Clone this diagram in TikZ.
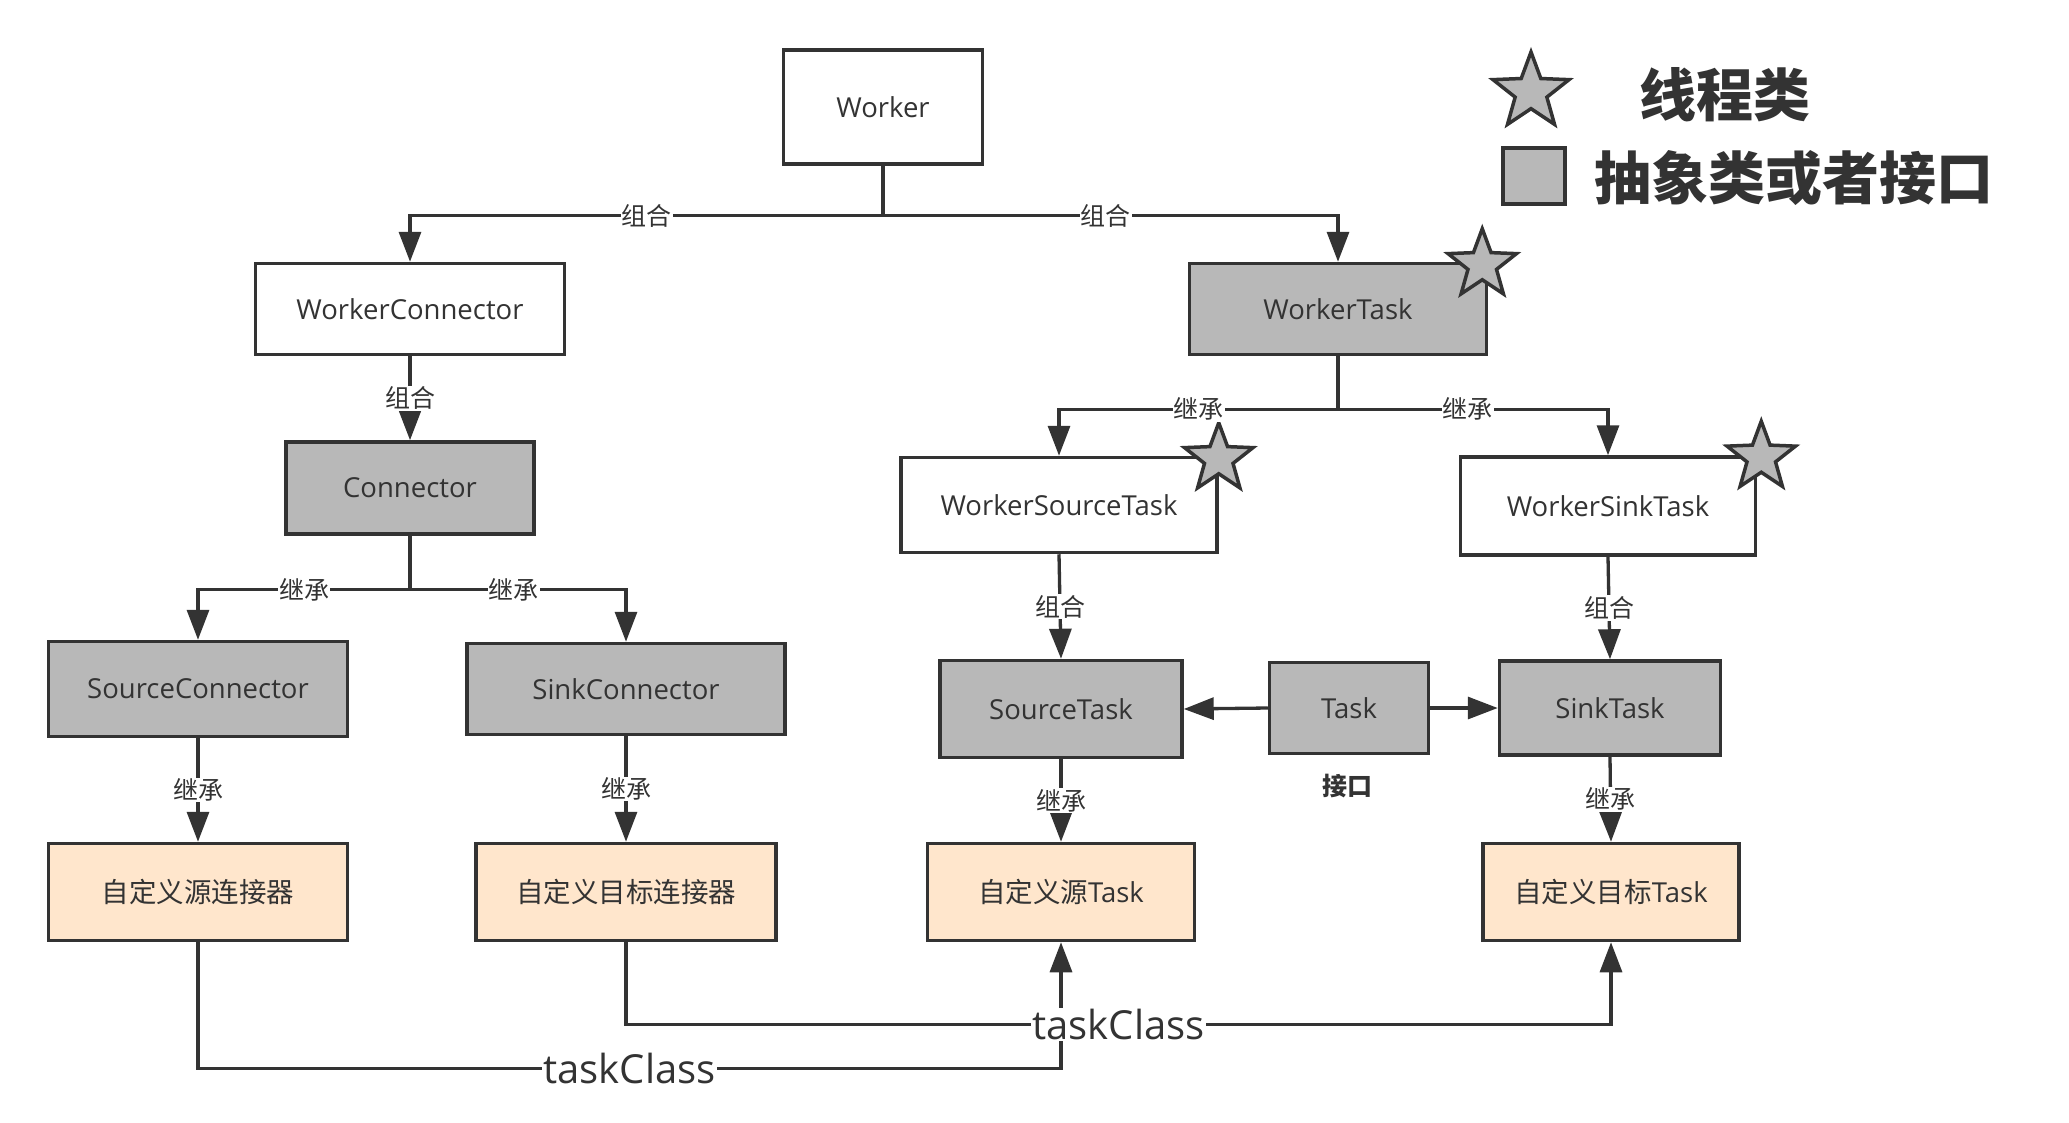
\documentclass[tikz,border=0pt]{standalone}
\usepackage{fontspec}
\setmainfont{Open Sans}
\newfontfamily\cjk{Noto Sans CJK SC}
\usetikzlibrary{arrows.meta,shapes.geometric}

\definecolor{linegray}{HTML}{333333}
\definecolor{absgray}{HTML}{B8B8B8}
\definecolor{implpeach}{HTML}{FFE6CC}

\tikzset{
  classbox/.style={draw=linegray, line width=3.5pt, fill=white, inner sep=0pt, text=linegray, font=\fontsize{27.5}{32}\selectfont},
  abstractbox/.style={classbox, fill=absgray},
  custombox/.style={classbox, fill=implpeach},
  rel/.style={fill=white, inner sep=1pt, text=linegray, font=\cjk\fontsize{25}{29}\selectfont},
  arr/.style={-{Triangle[length=30pt,width=22pt]}},
  link/.style={draw=linegray, line width=3.3pt},
  threadstar/.style={star, star points=5, star point ratio=2.4, minimum size=72pt, inner sep=0pt, draw=linegray, line width=3.5pt, fill=absgray},
}

\begin{document}
\begin{tikzpicture}[x=1pt,y=-1pt]
	\useasboundingbox (0,0) rectangle (2069,1122);

	% classes
	\node[classbox, minimum width=199pt, minimum height=114pt] (worker) at (883,107) {Worker};
	\node[classbox, minimum width=309pt, minimum height=91pt] (wconn) at (410,309) {WorkerConnector};
	\node[abstractbox, minimum width=248pt, minimum height=92pt] (conn) at (410,488) {Connector};
	\node[abstractbox, minimum width=299pt, minimum height=95pt] (srcconn) at (198,689) {SourceConnector};
	\node[abstractbox, minimum width=318pt, minimum height=91pt] (sinkconn) at (626,689) {SinkConnector};
	\node[custombox, minimum width=299pt, minimum height=97pt] (mysrcconn) at (198,892) {\cjk 自定义源连接器};
	\node[custombox, minimum width=300pt, minimum height=97pt] (mysinkconn) at (626,892) {\cjk 自定义目标连接器};

	\node[abstractbox, minimum width=297pt, minimum height=91pt] (wtask) at (1338,309) {WorkerTask};
	\node[classbox, minimum width=316pt, minimum height=95pt] (wsrctask) at (1059,505) {WorkerSourceTask};
	\node[classbox, minimum width=295pt, minimum height=98pt] (wsinktask) at (1608,506) {WorkerSinkTask};
	\node[abstractbox, minimum width=242pt, minimum height=97pt] (srctask) at (1061,709) {SourceTask};
	\node[abstractbox, minimum width=159pt, minimum height=91pt] (task) at (1349,708) {Task};
	\node[abstractbox, minimum width=221pt, minimum height=94pt] (sinktask) at (1610,708) {SinkTask};
	\node[custombox, minimum width=267pt, minimum height=97pt] (mysrctask) at (1061,892) {{\cjk 自定义源}Task};
	\node[custombox, minimum width=256pt, minimum height=97pt] (mysinktask) at (1611,892) {{\cjk 自定义目标}Task};
	\node[text=linegray, font=\cjk\bfseries\fontsize{25}{29}\selectfont] (tasknote) at (1347,786) {接口};

	% thread marks
	\node[threadstar, xshift=-6pt, yshift=-3pt] (wtaskstar) at (wtask.north east) {};
	\node[threadstar, xshift=0pt, yshift=-3pt] (wsrcstar) at (wsrctask.north east) {};
	\node[threadstar, xshift=4pt, yshift=-2pt] (wsinkstar) at (wsinktask.north east) {};

	% composition
	\coordinate (wsplit) at ([yshift=-50pt]worker.south);
	\draw[link] (worker.south) -- (wsplit);
	\draw[link,arr] (wsplit) -| node[rel,pos=0.25] {组合} (wconn.north);
	\draw[link,arr] (wsplit) -| node[rel,pos=0.245] {组合} (wtask.north);
	\draw[link,arr] (wconn.south) -- node[rel] {组合} (conn.north);
	\draw[link,arr] (wsrctask.south) -- node[rel] {组合} (srctask.north);
	\draw[link,arr] (wsinktask.south) -- node[rel] {组合} (sinktask.north);

	% inheritance
	\coordinate (csplit) at ([yshift=-54pt]conn.south);
	\draw[link] (conn.south) -- (csplit);
	\draw[link,arr] (csplit) -| node[rel,pos=0.25] {继承} (srcconn.north);
	\draw[link,arr] (csplit) -| node[rel,pos=0.24] {继承} (sinkconn.north);
	\coordinate (tsplit) at ([yshift=-53pt]wtask.south);
	\draw[link] (wtask.south) -- (tsplit);
	\draw[link,arr] (tsplit) -| node[rel,pos=0.25] {继承} (wsrctask.north);
	\draw[link,arr] (tsplit) -| node[rel,pos=0.24] {继承} (wsinktask.north);
	\draw[link,arr] (srcconn.south) -- node[rel] {继承} (mysrcconn.north);
	\draw[link,arr] (sinkconn.south) -- node[rel] {继承} (mysinkconn.north);
	\draw[link,arr] (srctask.south) -- node[rel] {继承} (mysrctask.north);
	\draw[link,arr] (sinktask.south) -- node[rel] {继承} (mysinktask.north);

	\draw[link,arr] (task.west) -- (srctask.east);
	\draw[link,arr] (task.east) -- (sinktask.west);

	% taskClass
	\draw[link,arr] (mysrcconn.south) -- ++(0,126) -| node[rel,font=\fontsize{40}{44}\selectfont,pos=0.25] {taskClass} (mysrctask.south);
	\draw[link,arr] (mysinkconn.south) -- ++(0,82) -| node[rel,font=\fontsize{40}{44}\selectfont,pos=0.25] {taskClass} (mysinktask.south);

	% legend
	\node[threadstar, minimum size=80pt] (legstar) at (1531,92) {};
	\node[anchor=west, text=linegray, font=\cjk\bfseries\fontsize{57}{60}\selectfont] (legthread) at (1636,95) {线程类};
	\node[draw=linegray, line width=4pt, fill=absgray, minimum width=62pt, minimum height=56pt, inner sep=0pt] (legbox) at (1534,176) {};
	\node[anchor=west, text=linegray, font=\cjk\bfseries\fontsize{57}{60}\selectfont] (legabstract) at (1591,178) {抽象类或者接口};
\end{tikzpicture}
\end{document}
